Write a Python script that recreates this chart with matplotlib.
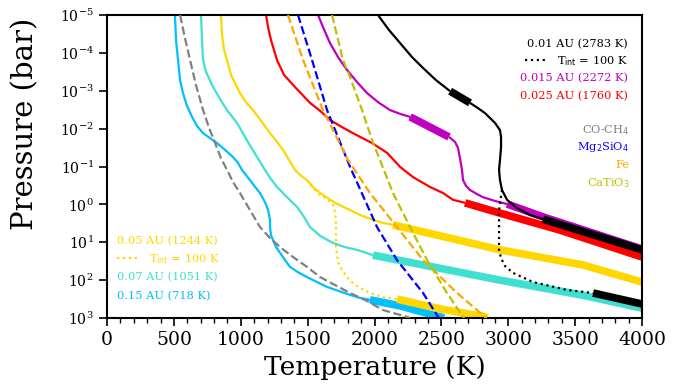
import numpy as np
import matplotlib
matplotlib.use("Agg")
import matplotlib.pyplot as plt
from matplotlib.lines import Line2D
from matplotlib.ticker import MultipleLocator, NullLocator

plt.rcParams['font.family'] = 'serif'
plt.rcParams['font.serif'] = ['DejaVu Serif']
plt.rcParams['mathtext.fontset'] = 'dejavusans'

# ---------- P-T profiles (temperature in K, log10 of pressure in bar)
# thin = radiative part, thick (_cz) = convective part

# 0.15 AU (718 K)
t718 = [508, 516, 531, 546, 568, 598, 636, 673, 718, 770, 822, 882, 942, 980, 1009, 1069, 1107, 1144,
        1181, 1204, 1219, 1219, 1226, 1241, 1264, 1294, 1331, 1368, 1428, 1495, 1570, 1645, 1727, 1817, 1892, 1966]
lp718 = [-5, -4.34, -3.81, -3.28, -2.94, -2.60, -2.31, -2.07, -1.88, -1.75, -1.62, -1.44, -1.25, -1.09, -0.91,
         -0.64, -0.46, -0.30, -0.06, 0.15, 0.41, 0.60, 0.81, 0.94, 1.13, 1.28, 1.47, 1.65, 1.79, 1.92, 2.05,
         2.18, 2.28, 2.39, 2.47, 2.52]
t718_cz = [1966, 2191, 2490, 2520]
lp718_cz = [2.52, 2.68, 2.97, 3.0]

# 0.07 AU (1051 K)
t1051 = [703, 710, 718, 740, 793, 845, 897, 972, 1032, 1077, 1122, 1181, 1219, 1271, 1346, 1421, 1473, 1518,
         1593, 1690, 1780, 1869, 1989]
lp1051 = [-5, -4.34, -3.81, -3.50, -3.10, -2.78, -2.49, -2.15, -1.78, -1.51, -1.25, -0.91, -0.70, -0.46, -0.19,
          0.07, 0.33, 0.60, 0.83, 1.02, 1.13, 1.20, 1.34]
t1051_cz = [1989, 2938, 3559, 4000]
lp1051_cz = [1.34, 2.0, 2.40, 2.74]

# 0.05 AU (1244 K) and its Tint = 100 K variant
t1244 = [852, 860, 875, 897, 927, 994, 1039, 1092, 1159, 1219, 1271, 1316, 1361, 1406, 1443, 1495, 1540, 1593,
         1705, 1817, 1892, 1989, 2064, 2138]
lp1244 = [-5, -4.47, -4.08, -3.81, -3.42, -2.94, -2.70, -2.49, -2.17, -1.88, -1.65, -1.44, -1.17, -0.91, -0.78,
          -0.64, -0.46, -0.30, -0.04, 0.15, 0.28, 0.41, 0.49, 0.54]
t1244_cz = [2138, 2938, 3559, 4000]
lp1244_cz = [0.54, 1.20, 1.60, 2.05]
t1244_lo = [1495, 1540, 1593, 1652, 1690, 1705, 1712, 1712, 1720, 1727, 1757, 1794, 1839, 1892, 1966, 2064, 2168]
lp1244_lo = [-0.64, -0.43, -0.25, -0.12, 0.02, 0.20, 0.54, 1.07, 1.34, 1.52, 1.73, 1.92, 2.08, 2.21, 2.34, 2.45, 2.50]
t1244_lo_cz = [2168, 2490, 2826, 2840]
lp1244_lo_cz = [2.50, 2.76, 2.97, 3.0]

# 0.025 AU (1760 K)
t1760 = [1189, 1204, 1226, 1271, 1323, 1413, 1518, 1593, 1667, 1757, 1839, 1981, 2094, 2191, 2288, 2415, 2512,
         2587, 2677]
lp1760 = [-5, -4.68, -4.34, -3.81, -3.42, -3.07, -2.68, -2.47, -2.23, -2.04, -1.88, -1.62, -1.36, -0.99, -0.72,
          -0.46, -0.30, -0.12, -0.04]
t1760_cz = [2677, 2938, 3387, 4000]
lp1760_cz = [-0.04, 0.23, 0.68, 1.39]

# 0.015 AU (2272 K)
t2272 = [1578, 1615, 1667, 1727, 1794, 1869, 1944, 2026, 2116, 2191, 2266]
lp2272 = [-5, -4.68, -4.26, -3.89, -3.55, -3.23, -2.94, -2.70, -2.49, -2.39, -2.31]
t2272_cz1 = [2266, 2415, 2557]
lp2272_cz1 = [-2.31, -2.04, -1.78]
t2272_b = [2557, 2602, 2624, 2639, 2654, 2662, 2684, 2714, 2767, 2811, 2901, 2991]
lp2272_b = [-1.78, -1.65, -1.49, -1.22, -0.91, -0.64, -0.49, -0.38, -0.27, -0.19, -0.09, -0.01]
t2272_cz2 = [2991, 3260, 4000]
lp2272_cz2 = [-0.01, 0.33, 1.18]

# 0.01 AU (2783 K) and its Tint = 100 K variant
t2783 = [2026, 2109, 2191, 2280, 2363, 2460, 2565]
lp2783 = [-5, -4.60, -4.26, -3.89, -3.60, -3.28, -2.99]
t2783_cz1 = [2565, 2714]
lp2783_cz1 = [-2.99, -2.68]
t2783_b = [2714, 2774, 2826, 2901, 2938, 2946, 2946, 2938, 2931, 2938, 2953, 2991, 3066, 3163, 3260]
lp2783_b = [-2.68, -2.54, -2.41, -2.15, -1.96, -1.78, -1.51, -1.17, -0.91, -0.64, -0.38, -0.12, 0.10, 0.28, 0.39]
t2783_cz2 = [3260, 4000]
lp2783_cz2 = [0.39, 1.20]
t2783_lo = [2953, 2931, 2931, 2946, 2976, 3036, 3185, 3439, 3634]
lp2783_lo = [-0.38, 0.15, 1.20, 1.42, 1.63, 1.81, 2.05, 2.26, 2.34]
t2783_lo_cz = [3634, 4000]
lp2783_lo_cz = [2.34, 2.63]

# condensation curves
t_coch4 = [546, 583, 621, 665, 718, 763, 808, 852, 897, 942, 994, 1069, 1144, 1219, 1294, 1391, 1495, 1593,
           1705, 1817, 1944, 2064, 2243, 2266]
lp_coch4 = [-5, -4.39, -3.81, -3.15, -2.49, -2.02, -1.62, -1.22, -0.91, -0.59, -0.30, 0.15, 0.60, 0.89, 1.13,
            1.39, 1.65, 1.92, 2.13, 2.34, 2.55, 2.79, 2.97, 3.0]
t_mg2sio4 = [1428, 1533, 1645, 1817, 2019, 2168, 2363, 2475, 2485]
lp_mg2sio4 = [-5, -3.81, -2.49, -0.99, 0.60, 1.47, 2.34, 2.97, 3.0]
t_fe = [1353, 1466, 1615, 1802, 1966, 2168, 2363, 2617, 2826, 2840]
lp_fe = [-5, -3.81, -2.49, -1.17, -0.30, 0.60, 1.47, 2.34, 2.97, 3.0]
t_catio3 = [1682, 1765, 1817, 1907, 1989, 2041, 2138, 2266, 2393, 2542, 2662, 2672]
lp_catio3 = [-5, -3.81, -3.36, -2.49, -1.62, -1.17, -0.30, 0.60, 1.47, 2.34, 2.97, 3.0]

c718, c1051, c1244 = '#00BFFF', '#40E0D0', '#FFD700'
c1760, c2272, c2783 = '#FF0000', '#BF00BF', 'black'

fig = plt.figure(figsize=(6.94, 3.88), dpi=100, facecolor='white')
ax = fig.add_axes([0.1542, 0.1804, 0.7709, 0.7809])

def prof(t, lp, color, thick=False, ls='-'):
    ax.plot(t, 10**np.array(lp), color=color, ls=ls,
            lw=5.5 if thick else 1.6, solid_capstyle='butt', solid_joinstyle='round')

# coolest first so hotter ones sit on top
prof(t718, lp718, c718)
prof(t718_cz, lp718_cz, c718, thick=True)
prof(t1051, lp1051, c1051)
prof(t1051_cz, lp1051_cz, c1051, thick=True)
prof(t1244, lp1244, c1244)
prof(t1244_cz, lp1244_cz, c1244, thick=True)
prof(t1244_lo, lp1244_lo, c1244, ls=':')
prof(t1244_lo_cz, lp1244_lo_cz, c1244, thick=True)
prof(t1760, lp1760, c1760)
prof(t1760_cz, lp1760_cz, c1760, thick=True)
prof(t2272, lp2272, c2272)
prof(t2272_cz1, lp2272_cz1, c2272, thick=True)
prof(t2272_b, lp2272_b, c2272)
prof(t2272_cz2, lp2272_cz2, c2272, thick=True)
prof(t2783, lp2783, c2783)
prof(t2783_cz1, lp2783_cz1, c2783, thick=True)
prof(t2783_b, lp2783_b, c2783)
prof(t2783_cz2, lp2783_cz2, c2783, thick=True)
prof(t2783_lo, lp2783_lo, c2783, ls=':')
prof(t2783_lo_cz, lp2783_lo_cz, c2783, thick=True)

# condensation curves, dashed
for t, lp, c in [(t_coch4, lp_coch4, 'gray'), (t_mg2sio4, lp_mg2sio4, 'blue'),
                 (t_fe, lp_fe, 'orange'), (t_catio3, lp_catio3, '#BFBF00')]:
    ax.plot(t, 10**np.array(lp), color=c, ls='--', lw=1.6, zorder=3)

ax.set_yscale('log')
ax.set_xlim(0, 4000)
ax.set_ylim(1e3, 1e-5)
ax.xaxis.set_major_locator(MultipleLocator(500))
ax.xaxis.set_minor_locator(MultipleLocator(100))
ax.yaxis.set_minor_locator(NullLocator())
ax.tick_params(which='major', length=6, width=1.2)
ax.tick_params(which='minor', length=3.5, width=1)
ax.tick_params(axis='x', labelsize=13.5)
ax.tick_params(axis='y', labelsize=10.2)
for s in ax.spines.values():
    s.set_linewidth(1.5)

ax.set_xlabel('Temperature (K)', fontsize=19)
ax.set_ylabel('Pressure (bar)', fontsize=21)
ax.yaxis.set_label_coords(-0.127, 0.64)

# ---------- labels
fs = 8.2
tr = ax.transAxes
ax.text(0.974, 0.904, '0.01 AU (2783 K)', color=c2783, fontsize=fs, ha='right', va='center', transform=tr)
ax.text(0.974, 0.792, '0.015 AU (2272 K)', color=c2272, fontsize=fs, ha='right', va='center', transform=tr)
ax.text(0.974, 0.733, '0.025 AU (1760 K)', color=c1760, fontsize=fs, ha='right', va='center', transform=tr)

ax.text(0.976, 0.620, 'CO-CH$_4$', color='gray', fontsize=fs, ha='right', va='center', transform=tr)
ax.text(0.976, 0.564, 'Mg$_2$SiO$_4$', color='blue', fontsize=fs, ha='right', va='center', transform=tr)
ax.text(0.976, 0.505, 'Fe', color='orange', fontsize=fs, ha='right', va='center', transform=tr)
ax.text(0.976, 0.446, 'CaTiO$_3$', color='#BFBF00', fontsize=fs, ha='right', va='center', transform=tr)

ax.text(0.019, 0.254, '0.05 AU (1244 K)', color=c1244, fontsize=fs, ha='left', va='center', transform=tr)
ax.text(0.019, 0.135, '0.07 AU (1051 K)', color=c1051, fontsize=fs, ha='left', va='center', transform=tr)
ax.text(0.019, 0.073, '0.15 AU (718 K)', color=c718, fontsize=fs, ha='left', va='center', transform=tr)

tint = r'T$_{\rm int}$ = 100 K'
leg1 = ax.legend(handles=[Line2D([], [], color=c2783, ls=':', lw=1.6)], labels=[tint],
                 loc='center right', bbox_to_anchor=(0.974, 0.848), frameon=False,
                 borderpad=0, borderaxespad=0, fontsize=fs, labelcolor=c2783)
ax.add_artist(leg1)
ax.legend(handles=[Line2D([], [], color=c1244, ls=':', lw=1.6)], labels=[tint],
          loc='center left', bbox_to_anchor=(0.019, 0.195), frameon=False,
          borderpad=0, borderaxespad=0, fontsize=fs, labelcolor=c1244)

fig.savefig('out.png', dpi=100)
